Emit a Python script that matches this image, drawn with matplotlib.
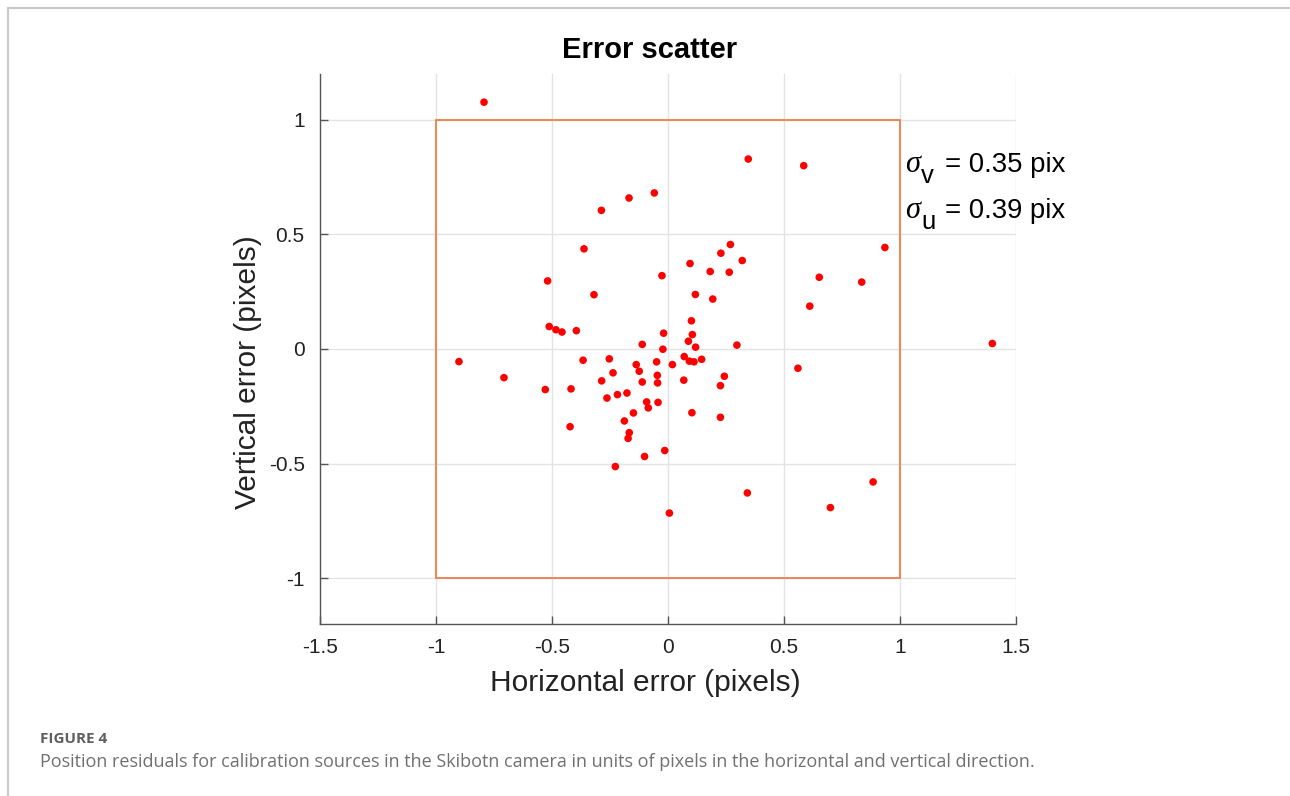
import matplotlib.pyplot as plt
from matplotlib.patches import Rectangle
from matplotlib.lines import Line2D

# residuals (pixels)
h_err = [-0.793, -0.287, -0.168, -0.059, -0.362, 0.095, -0.026, 0.182, 0.264, -0.519,
         -0.319, 0.118, 0.193, 0.346, 0.585, 0.269, 0.228, 0.320, 0.935, 0.652,
         0.835, 0.611, -0.512, -0.483, -0.457, -0.395, 0.101, 0.105, 0.088, 0.119,
         -0.019, -0.022, -0.111, 0.297, 1.398, -0.901, -0.707, -0.529, -0.418, -0.366,
         -0.253, -0.237, -0.286, -0.263, -0.218, -0.177, -0.422, -0.188, -0.167, -0.172,
         -0.227, -0.149, -0.137, -0.124, -0.111, -0.049, -0.046, -0.045, -0.092, -0.085,
         -0.043, -0.101, -0.014, 0.019, 0.070, 0.092, 0.112, 0.145, 0.068, 0.103,
         0.243, 0.226, 0.226, 0.560, 0.342, 0.884, 0.700, 0.006]
v_err = [1.077, 0.605, 0.659, 0.681, 0.437, 0.373, 0.320, 0.338, 0.335, 0.297,
         0.237, 0.238, 0.218, 0.829, 0.800, 0.456, 0.418, 0.386, 0.443, 0.313,
         0.292, 0.187, 0.098, 0.084, 0.074, 0.080, 0.123, 0.063, 0.034, 0.008,
         0.069, -0.001, 0.020, 0.017, 0.024, -0.055, -0.125, -0.177, -0.174, -0.049,
         -0.043, -0.104, -0.139, -0.214, -0.199, -0.192, -0.339, -0.314, -0.365, -0.390,
         -0.513, -0.279, -0.068, -0.097, -0.144, -0.056, -0.115, -0.148, -0.231, -0.257,
         -0.233, -0.469, -0.443, -0.068, -0.033, -0.053, -0.056, -0.045, -0.136, -0.278,
         -0.119, -0.160, -0.298, -0.084, -0.628, -0.580, -0.692, -0.716]

x_ticks = [-1.5, -1, -0.5, 0, 0.5, 1, 1.5]
x_tick_labels = ['-1.5', '-1', '-0.5', '0', '0.5', '1', '1.5']
y_ticks = [-1, -0.5, 0, 0.5, 1]
y_tick_labels = ['-1', '-0.5', '0', '0.5', '1']
sigma_labels = ['v', 'u']
sigma_values = [0.35, 0.39]

plt.rcParams['font.family'] = ['Liberation Sans', 'DejaVu Sans']
plt.rcParams['mathtext.fontset'] = 'custom'
plt.rcParams['mathtext.rm'] = 'Liberation Sans'
plt.rcParams['mathtext.it'] = 'Liberation Serif:italic'

W, H = 1290, 796
fig = plt.figure(figsize=(W / 100, H / 100), dpi=100)
ax = fig.add_axes([320 / W, 1 - 624 / H, 696 / W, 550 / H])

ax.set_xlim(-1.5, 1.5)
ax.set_ylim(-1.2, 1.2)
ax.set_xticks(x_ticks)
ax.set_xticklabels(x_tick_labels)
ax.set_yticks(y_ticks)
ax.set_yticklabels(y_tick_labels)
ax.grid(True, color='#e3e3e3', linewidth=1.0)
ax.set_axisbelow(True)

for s in ['top', 'right']:
    ax.spines[s].set_visible(False)
for s in ['left', 'bottom']:
    ax.spines[s].set_color('#555555')
    ax.spines[s].set_linewidth(1.0)

ax.tick_params(axis='x', direction='in', length=6, width=1.0, color='#555555',
               labelsize=15, labelcolor='#222222', pad=10)
ax.tick_params(axis='y', direction='in', length=6, width=1.0, color='#555555',
               labelsize=15, labelcolor='#222222', pad=11)

# +-1 pixel box
ax.add_patch(Rectangle((-1, -1), 2, 2, fill=False, edgecolor='#ef7d4b', linewidth=1.3, zorder=2))

ax.scatter(h_err, v_err, s=30, color='#ff0000', edgecolors='none', zorder=3)

# sigma annotations, MATLAB-style big subscripts
for i, (lab, val) in enumerate(zip(sigma_labels, sigma_values)):
    base = 172 + 46 * i
    fig.text(905 / W, 1 - base / H, r'$\sigma$', fontsize=22, ha='left', va='baseline')
    fig.text(921 / W, 1 - (base + 11) / H, lab, fontsize=18.5, ha='left', va='baseline')
    fig.text(945 / W, 1 - base / H, '= %.2f pix' % val, fontsize=19.8, ha='left', va='baseline')

fig.text(650 / W, 1 - 50 / H, 'Error scatter', fontsize=21, fontweight='bold',
         ha='center', va='center')
fig.text(645 / W, 1 - 683 / H, 'Horizontal error (pixels)', fontsize=21.5,
         ha='center', va='center', color='#222222')
fig.text(248 / W, 1 - 372 / H, 'Vertical error (pixels)', fontsize=21.5,
         ha='center', va='center', rotation=90, color='#222222')

# caption and frame
fig.text(40 / W, 1 - 739 / H, 'FIGURE 4', fontsize=11, fontweight='bold',
         family='Open Sans', color='#5f5f5f', ha='left', va='center')
fig.text(40 / W, 1 - 762 / H,
         'Position residuals for calibration sources in the Skibotn camera in units of pixels '
         'in the horizontal and vertical direction.',
         fontsize=13, family='Open Sans', color='#707070', ha='left', va='center')
fig.add_artist(Line2D([7.5 / W, 7.5 / W], [0, 1 - 7.5 / H], transform=fig.transFigure,
                      color='#c8c8c8', linewidth=1.5))
fig.add_artist(Line2D([7.5 / W, 1], [1 - 7.5 / H, 1 - 7.5 / H], transform=fig.transFigure,
                      color='#c8c8c8', linewidth=1.5))

fig.savefig('out.png', dpi=100)
